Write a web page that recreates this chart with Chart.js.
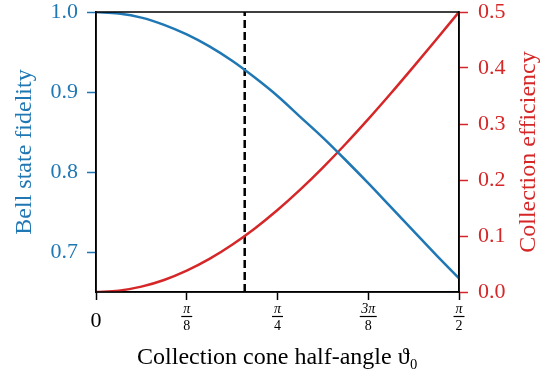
<!DOCTYPE html>
<html lang="en">
<head>
  <meta charset="UTF-8">
  <title>Fidelity and collection efficiency</title>
  <script src="https://cdn.jsdelivr.net/npm/chart.js"></script>
  <style>
    html, body { margin: 0; padding: 0; background: #fff; }
    canvas { display: block; }
  </style>
</head>
<body>
  <canvas id="coneChart" width="547" height="377"></canvas>

  <script>
    // half-angle of the collection cone (rad)
    const thetaValues = [0, 0.0982, 0.1963, 0.2945, 0.3927, 0.4909, 0.5890, 0.6872, 0.7854,
      0.8836, 0.9817, 1.0799, 1.1781, 1.2763, 1.3744, 1.4726, 1.5708];
    const fidelityValues = [1.000, 0.998, 0.993, 0.984, 0.972, 0.957, 0.939, 0.918, 0.895,
      0.869, 0.843, 0.815, 0.786, 0.756, 0.726, 0.696, 0.667];
    const efficiencyValues = [0, 0.0024, 0.0096, 0.0215, 0.0381, 0.0590, 0.0843, 0.1135, 0.1464,
      0.1828, 0.2222, 0.2643, 0.3087, 0.3549, 0.4025, 0.4510, 0.5];
    const markerAngle = 0.6435;

    const xTickValues = [0, 0.3927, 0.7854, 1.1781, 1.5708];
    const xTickLabels = [['0'], ['π', '8'], ['π', '4'], ['3π', '8'], ['π', '2']];
    const fidelityTicks = [0.7, 0.8, 0.9, 1.0];
    const efficiencyTicks = [0, 0.1, 0.2, 0.3, 0.4, 0.5];

    const BLUE = '#1f77b4';
    const RED = '#d62728';
    const SERIF = "'Liberation Serif', 'DejaVu Serif', serif";

    const toPoints = (xs, ys) => xs.map((x, i) => ({ x: x, y: ys[i] }));

    // keep the plot frame 12px below the top edge whatever the label size
    const fitVertical = width => s => {
      s.width = width;
      s.paddingTop = 12;
      s.paddingBottom = 0;
    };

    // frame, fraction-style x tick labels and the right-hand axis title
    const decorations = {
      id: 'decorations',
      afterDraw(chart) {
        const { ctx, chartArea } = chart;
        const xs = chart.scales.x;
        ctx.save();
        ctx.strokeStyle = '#000';
        ctx.lineWidth = 1.5;
        ctx.strokeRect(chartArea.left, chartArea.top,
          chartArea.right - chartArea.left, chartArea.bottom - chartArea.top);

        ctx.fillStyle = '#000';
        ctx.textAlign = 'center';
        ctx.textBaseline = 'middle';
        xTickValues.forEach((v, i) => {
          const px = xs.getPixelForValue(v);
          const lab = xTickLabels[i];
          if (lab.length === 1) {
            ctx.font = '22px ' + SERIF;
            ctx.fillText(lab[0], px, 321);
            return;
          }
          ctx.font = 'italic 14px ' + SERIF;
          ctx.fillText(lab[0], px, 309);
          const w = Math.max(ctx.measureText(lab[0]).width, 8) + 3;
          ctx.lineWidth = 1.2;
          ctx.beginPath();
          ctx.moveTo(px - w / 2, 316.5);
          ctx.lineTo(px + w / 2, 316.5);
          ctx.stroke();
          ctx.font = '14px ' + SERIF;
          ctx.fillText(lab[1], px, 326);
        });

        ctx.translate(529, (chartArea.top + chartArea.bottom) / 2);
        ctx.rotate(-Math.PI / 2);
        ctx.fillStyle = RED;
        ctx.font = '24px ' + SERIF;
        ctx.fillText('Collection efficiency', 0, 0);
        ctx.restore();
      }
    };

    new Chart(document.getElementById('coneChart'), {
      type: 'line',
      data: {
        datasets: [
          {
            label: 'Bell state fidelity',
            data: toPoints(thetaValues, fidelityValues),
            yAxisID: 'yF',
            borderColor: BLUE,
            borderWidth: 2.5,
            pointRadius: 0,
            cubicInterpolationMode: 'monotone',
            fill: false
          },
          {
            label: 'Collection efficiency',
            data: toPoints(thetaValues, efficiencyValues),
            yAxisID: 'yE',
            borderColor: RED,
            borderWidth: 2.5,
            pointRadius: 0,
            cubicInterpolationMode: 'monotone',
            fill: false
          },
          {
            label: 'marker',
            data: [{ x: markerAngle, y: 0.65 }, { x: markerAngle, y: 1.0 }],
            yAxisID: 'yF',
            borderColor: '#000',
            borderWidth: 2.5,
            borderDash: [8, 4],
            pointRadius: 0,
            fill: false
          }
        ]
      },
      options: {
        responsive: false,
        animation: false,
        layout: { padding: 0 },
        plugins: {
          legend: { display: false },
          tooltip: { enabled: false }
        },
        scales: {
          x: {
            type: 'linear',
            min: 0,
            max: 1.5708,
            afterBuildTicks: s => { s.ticks = xTickValues.map(v => ({ value: v })); },
            afterFit: s => { s.height = 85; },
            ticks: { callback: () => '', maxRotation: 0 },
            grid: { drawOnChartArea: false, tickLength: 8, tickColor: '#000', tickWidth: 1.5 },
            border: { color: '#000', width: 1.5 },
            title: {
              display: true,
              text: 'Collection cone half-angle ϑ₀',
              color: '#000',
              font: { family: SERIF, size: 24 },
              padding: { top: 0, bottom: 5 }
            }
          },
          yF: {
            position: 'left',
            min: 0.65,
            max: 1.0,
            afterBuildTicks: s => { s.ticks = fidelityTicks.map(v => ({ value: v })); },
            afterFit: fitVertical(96),
            ticks: {
              color: BLUE,
              font: { family: SERIF, size: 22 },
              padding: 9,
              callback: v => v.toFixed(1)
            },
            grid: { drawOnChartArea: false, tickLength: 9, tickColor: BLUE, tickWidth: 1.5 },
            border: { color: '#000', width: 1.5 },
            title: {
              display: true,
              text: 'Bell state fidelity',
              color: BLUE,
              font: { family: SERIF, size: 24 },
              padding: { top: 10, bottom: 0 }
            }
          },
          yE: {
            position: 'right',
            min: 0,
            max: 0.5,
            afterBuildTicks: s => { s.ticks = efficiencyTicks.map(v => ({ value: v })); },
            afterFit: fitVertical(88),
            ticks: {
              color: RED,
              font: { family: SERIF, size: 22 },
              padding: 10,
              callback: v => v.toFixed(1)
            },
            grid: { drawOnChartArea: false, tickLength: 9, tickColor: RED, tickWidth: 1.5 },
            border: { color: '#000', width: 1.5 }
          }
        }
      },
      plugins: [decorations]
    });
  </script>
</body>
</html>
